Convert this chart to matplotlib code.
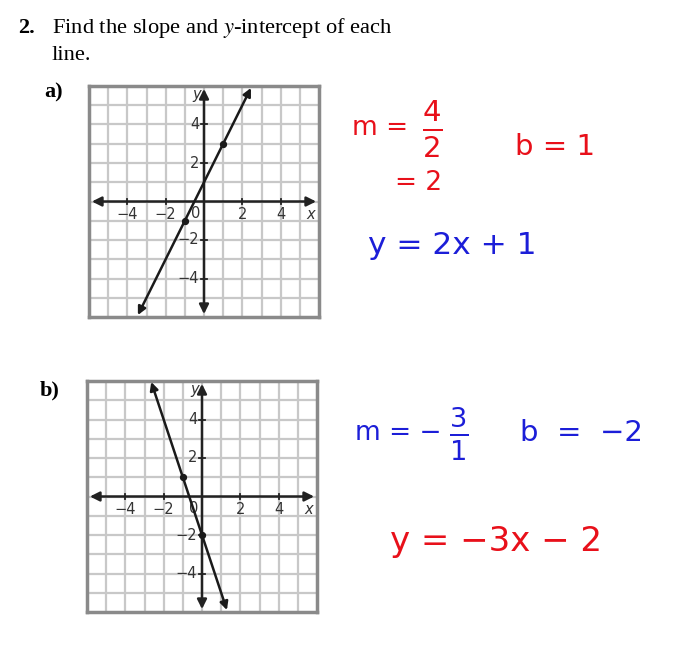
import numpy as np
import matplotlib.pyplot as plt

# grid range and labelled ticks
grid_min, grid_max = -6, 6
tick_vals = [-4, -2, 2, 4]

# line a) y = 2x + 1 : arrow ends and marked points
line_a_x = [-3.45, 2.45]
line_a_y = [-5.9, 5.9]
pts_a_x = [-1, 1]
pts_a_y = [-1, 3]

# line b) y = -3x - 2
line_b_x = [-2.65, 1.3]
line_b_y = [5.95, -5.9]
pts_b_x = [-1, 0]
pts_b_y = [1, -2]

RED = '#e8101a'
BLUE = '#1c1ed8'

fig = plt.figure(figsize=(6.78, 6.51), dpi=100)
fig.patch.set_facecolor('white')


def draw_grid(ax, lx, ly, px, py):
    ax.set_xlim(grid_min, grid_max)
    ax.set_ylim(grid_min, grid_max)
    ax.set_xticks([])
    ax.set_yticks([])
    for sp in ax.spines.values():
        sp.set_color('#8a8a8a')
        sp.set_linewidth(2.5)
    for v in range(grid_min + 1, grid_max):
        ax.axvline(v, color='#c8c8c8', lw=1.6, zorder=1)
        ax.axhline(v, color='#c8c8c8', lw=1.6, zorder=1)
    # axes with arrows at both ends
    ax.annotate('', xy=(5.85, 0), xytext=(-5.85, 0),
                arrowprops=dict(arrowstyle='<|-|>', color='#222222', lw=1.8,
                                mutation_scale=14, shrinkA=0, shrinkB=0), zorder=3)
    ax.annotate('', xy=(0, 5.85), xytext=(0, -5.85),
                arrowprops=dict(arrowstyle='<|-|>', color='#222222', lw=1.8,
                                mutation_scale=14, shrinkA=0, shrinkB=0), zorder=3)
    # tick marks and labels
    for t in tick_vals:
        ax.plot([t, t], [-0.15, 0.15], color='#222222', lw=1.3, zorder=3)
        ax.plot([-0.15, 0.15], [t, t], color='#222222', lw=1.3, zorder=3)
        ax.text(t, -0.3, str(t).replace('-', '\u2212'), ha='center', va='top',
                fontsize=10.5, color='#333333', family='DejaVu Sans')
        ax.text(-0.25, t, str(t).replace('-', '\u2212'), ha='right', va='center',
                fontsize=10.5, color='#333333', family='DejaVu Sans')
    ax.text(-0.2, -0.25, '0', ha='right', va='top', fontsize=10.5, color='#333333')
    ax.text(5.55, -0.3, 'x', ha='center', va='top', fontsize=10.5,
            color='#333333', style='italic')
    ax.text(-0.15, 5.55, 'y', ha='right', va='center', fontsize=10.5,
            color='#333333', style='italic')
    # the line
    ax.annotate('', xy=(lx[1], ly[1]), xytext=(lx[0], ly[0]),
                arrowprops=dict(arrowstyle='<|-|>', color='#1a1a1a', lw=1.8,
                                mutation_scale=12, shrinkA=0, shrinkB=0), zorder=4)
    ax.scatter(px, py, s=18, color='#1a1a1a', zorder=5)


ax_a = fig.add_axes([89 / 678, 1 - 317 / 651, 230 / 678, 231 / 651])
draw_grid(ax_a, line_a_x, line_a_y, pts_a_x, pts_a_y)

ax_b = fig.add_axes([87 / 678, 1 - 612 / 651, 230 / 678, 231 / 651])
draw_grid(ax_b, line_b_x, line_b_y, pts_b_x, pts_b_y)

# question text
serif = 'Liberation Serif'
fig.text(18 / 678, 1 - 28 / 651, '2.', fontsize=16, fontweight='bold', family=serif, va='center')
fig.text(52 / 678, 1 - 28 / 651, 'Find the slope and $y$-intercept of each',
         fontsize=16.2, family=serif, va='center', math_fontfamily='stix')
fig.text(52 / 678, 1 - 56 / 651, 'line.', fontsize=16.2, family=serif, va='center')
fig.text(44 / 678, 1 - 92 / 651, 'a)', fontsize=16, fontweight='bold', family=serif, va='center')
fig.text(40 / 678, 1 - 390 / 651, 'b)', fontsize=16, fontweight='bold', family=serif, va='center')

hand = 'DejaVu Sans'

# handwritten work for a)
fig.text(352 / 678, 1 - 128 / 651, 'm =', fontsize=19, color=RED, family=hand, va='center')
fig.text(432 / 678, 1 - 129 / 651, r'$\frac{4}{2}$', fontsize=30, color=RED,
         ha='center', va='center', math_fontfamily='dejavusans')
fig.text(395 / 678, 1 - 183 / 651, '= 2', fontsize=19, color=RED, family=hand, va='center')
fig.text(515 / 678, 1 - 147 / 651, 'b = 1', fontsize=21, color=RED, family=hand, va='center')
fig.text(368 / 678, 1 - 245 / 651, 'y = 2x + 1', fontsize=22.5, color=BLUE, family=hand, va='center')

# handwritten work for b)
fig.text(355 / 678, 1 - 433 / 651, 'm = \u2212', fontsize=19, color=BLUE, family=hand, va='center')
fig.text(459 / 678, 1 - 434 / 651, r'$\frac{3}{1}$', fontsize=28, color=BLUE,
         ha='center', va='center', math_fontfamily='dejavusans')
fig.text(520 / 678, 1 - 433 / 651, 'b  =  \u22122', fontsize=21, color=BLUE, family=hand, va='center')
fig.text(390 / 678, 1 - 541 / 651, 'y = \u22123x \u2212 2', fontsize=24.5, color=RED, family=hand, va='center')

fig.savefig('out.png', dpi=100, facecolor='white')
